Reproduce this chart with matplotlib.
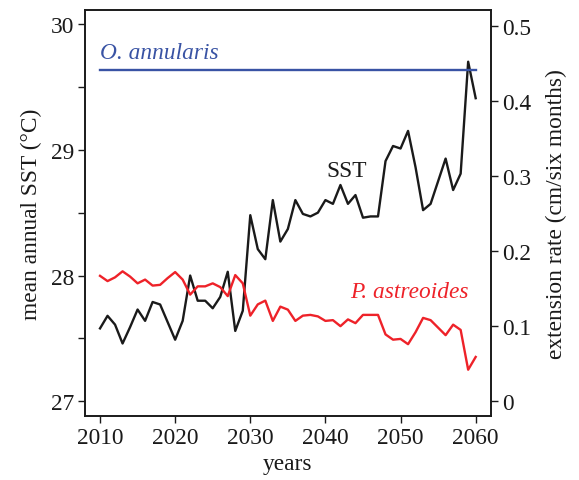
import matplotlib
matplotlib.use("Agg")
import matplotlib.pyplot as plt
import numpy as np

plt.rcParams['font.family'] = ['Liberation Serif', 'DejaVu Serif']
plt.rcParams['mathtext.fontset'] = 'stix'

years = list(range(2010, 2061))
sst = [27.58, 27.68, 27.61, 27.46, 27.59, 27.73, 27.64, 27.79, 27.77, 27.63,
       27.49, 27.64, 28.00, 27.80, 27.80, 27.74, 27.83, 28.03, 27.56, 27.72,
       28.48, 28.21, 28.13, 28.60, 28.27, 28.37, 28.60, 28.49, 28.47, 28.50,
       28.60, 28.57, 28.72, 28.57, 28.64, 28.46, 28.47, 28.47, 28.91, 29.03,
       29.01, 29.15, 28.86, 28.52, 28.57, 28.75, 28.93, 28.68, 28.81, 29.70,
       29.41]
p_astreoides = [0.167, 0.160, 0.165, 0.173, 0.166, 0.157, 0.162, 0.154, 0.155, 0.164,
                0.172, 0.162, 0.142, 0.153, 0.153, 0.157, 0.152, 0.140, 0.168, 0.157,
                0.114, 0.129, 0.134, 0.107, 0.126, 0.122, 0.107, 0.114, 0.115, 0.113,
                0.107, 0.108, 0.100, 0.109, 0.104, 0.115, 0.115, 0.115, 0.089, 0.082,
                0.083, 0.076, 0.092, 0.111, 0.108, 0.098, 0.088, 0.102, 0.095, 0.042,
                0.059]
o_annularis = [0.441, 0.441]
o_years = [2010, 2060]

fs = 16.8
fig = plt.figure(figsize=(5.79, 4.81), dpi=100)
ax = fig.add_axes([0.1468, 0.1337, 0.8475 - 0.1468, 0.9771 - 0.1337])
ax2 = ax.twinx()

ax.plot(years, sst, color='#1a1a1a', lw=1.7, zorder=3)
ax2.plot(years, p_astreoides, color='#ee2229', lw=1.7)
ax2.plot(o_years, o_annularis, color='#3953a4', lw=1.7)

ax.set_xlim(2008.0, 2062.0)
ax.set_ylim(26.886, 30.111)
ax2.set_ylim(-0.0192, 0.5209)

ax.set_xticks([2010, 2020, 2030, 2040, 2050, 2060])
ax.set_yticks([27, 28, 29, 30])
ax.set_yticks([27.5, 28.5, 29.5], minor=True)
ax2.set_yticks([0, 0.1, 0.2, 0.3, 0.4, 0.5])
ax2.set_yticklabels(['0', '0.1', '0.2', '0.3', '0.4', '0.5'])

for a in (ax, ax2):
    a.tick_params(axis='both', which='both', direction='out', length=5, width=1,
                  labelsize=fs, colors='#1a1a1a', pad=3)
    for s in a.spines.values():
        s.set_linewidth(1.2)
        s.set_color('#1a1a1a')
ax.tick_params(axis='y', which='minor', length=5)

ax.set_xlabel('years', fontsize=fs, labelpad=4, color='#1a1a1a')
ax.set_ylabel('mean annual SST (°C)', fontsize=fs, labelpad=6, color='#1a1a1a')
ax2.set_ylabel('extension rate (cm/six months)', fontsize=fs, labelpad=11, color='#1a1a1a')

ax.text(2010, 29.73, 'O. annularis', fontsize=fs, style='italic', color='#3953a4',
        ha='left', va='baseline')
ax.text(2042.8, 28.79, 'SST', fontsize=fs, color='#1a1a1a', ha='center', va='baseline')
ax.text(2059.0, 27.83, 'P. astreoides', fontsize=fs, style='italic', color='#ee2229',
        ha='right', va='baseline')

fig.savefig('out.png', dpi=100)
